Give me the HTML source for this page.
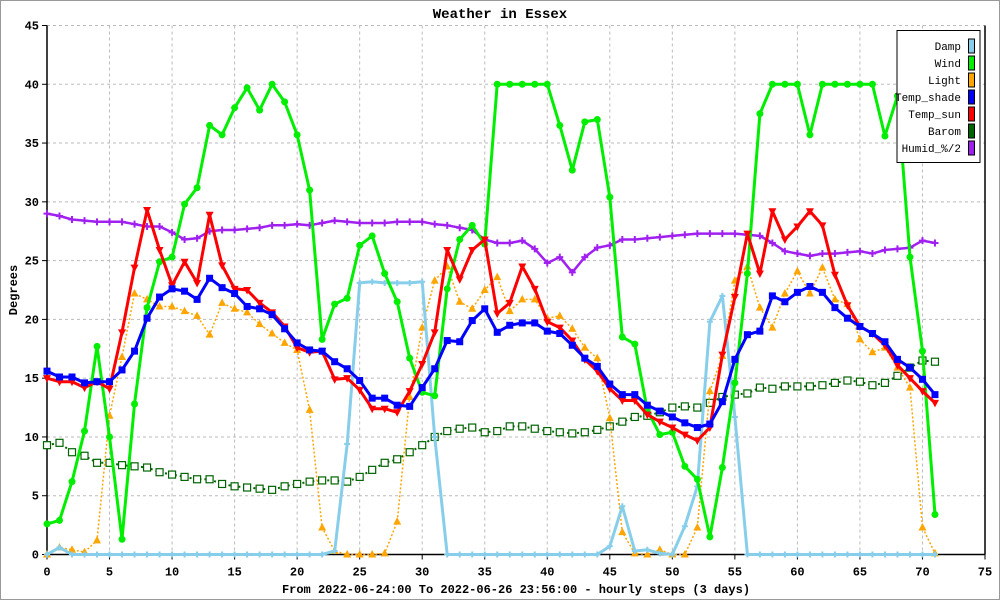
<!DOCTYPE html>
<html><head><meta charset="utf-8"><style>
html,body{margin:0;padding:0;background:#fff}
svg{display:block;font-family:"Liberation Mono",monospace}
</style></head><body>
<svg id="chart" width="1000" height="600" viewBox="0 0 1000 600" xmlns="http://www.w3.org/2000/svg">
<rect x="0.5" y="0.5" width="999" height="599" fill="#fff" stroke="#999"/>
<text x="500" y="18" text-anchor="middle" font-size="14" font-weight="bold">Weather in Essex</text>
<text transform="translate(17,290) rotate(-90)" text-anchor="middle" font-size="12" font-weight="bold">Degrees</text>
<text x="516" y="593" text-anchor="middle" font-size="12" font-weight="bold">From 2022-06-24:00 To 2022-06-26 23:56:00 - hourly steps (3 days)</text>
<g id="grid"></g>
<g id="axes"></g>
<g id="series"></g>
<g id="legend"></g>
</svg>
<script>
const xTicks=[0,5,10,15,20,25,30,35,40,45,50,55,60,65,70,75];
const yTicks=[0,5,10,15,20,25,30,35,40,45];
const seriesNames=["Damp","Wind","Light","Temp_shade","Temp_sun","Barom","Humid_%/2"];
const damp=[0,0.6,0,0,0,0,0,0,0,0,0,0,0,0,0,0,0,0,0,0,0,0,0,0.3,9.4,23.1,23.2,23.1,23.1,23.1,23.2,10,0,0,0,0,0,0,0,0,0,0,0,0,0,0.7,4.1,0.3,0.4,0.1,0,2.4,5.8,19.8,22,11.7,0,0,0,0,0,0,0,0,0,0,0,0,0,0,0,0];
const wind=[2.6,2.9,6.2,10.5,17.7,10,1.3,12.8,21,24.9,25.3,29.8,31.2,36.5,35.7,38,39.7,37.8,40,38.5,35.7,31,18.3,21.3,21.8,26.3,27.1,23.9,21.5,16.7,13.8,13.5,22.6,26.8,28,26.4,40,40,40,40,40,36.5,32.7,36.8,37,30.4,18.5,17.9,12.3,10.2,10.4,7.5,6.4,1.5,7.4,14.6,23.9,37.5,40,40,40,35.7,40,40,40,40,40,35.6,39,25.3,17.3,3.4];
const light=[0,0.6,0.4,0.2,1.2,11.8,16.8,22.2,21.7,21.1,21.1,20.7,20.3,18.7,21.4,20.9,20.6,19.6,18.8,18,17.4,12.3,2.3,0.3,0,0,0,0.1,2.8,13.4,19.3,23.3,24.5,21.5,20.9,22.5,23.6,20.7,21.7,21.7,20.1,20.3,19.2,17.6,16.7,11.6,1.9,0.1,0,0.4,0,0,2.3,13.9,16.9,23.3,24.5,21,19.3,22.2,24.1,22.2,24.4,21.7,21.3,18.3,17.2,17.6,15.9,14.2,2.3,0.1];
const tempShade=[15.6,15.1,15.1,14.6,14.7,14.7,15.7,17.3,20.1,21.9,22.6,22.4,21.7,23.5,22.7,22.2,21.1,20.9,20.4,19.2,18,17.4,17.3,16.4,15.8,14.8,13.3,13.3,12.7,12.6,14.2,15.8,18.2,18.1,19.9,20.9,18.9,19.5,19.7,19.7,19,18.8,17.8,16.7,16,14.5,13.6,13.6,12.7,12.2,11.7,11.2,10.8,11.1,13,16.6,18.7,19,22,21.5,22.3,22.8,22.3,21,20.1,19.4,18.8,18.1,16.6,15.9,14.9,13.6];
const tempSun=[15,14.7,14.7,14.2,14.7,14.1,18.9,24.4,29.3,25.9,22.9,24.9,23.1,28.9,24.6,22.6,22.5,21.4,20.6,19.4,17.6,17.2,17.3,14.9,15,14,12.4,12.4,12.1,13.9,16.2,18.9,25.9,23.4,25.9,26.8,20.5,21.4,24.5,22.6,19.8,19.3,18.2,16.6,15.6,14.1,13.1,13.1,11.9,11.3,10.8,10.2,9.7,10.8,17,21.9,27.3,23.9,29.2,26.8,27.9,29.2,28,23.8,21.2,19.4,18.8,17.8,16.1,15,13.9,12.9];
const barom=[9.3,9.5,8.7,8.4,7.8,7.8,7.6,7.5,7.4,7,6.8,6.6,6.4,6.4,6,5.8,5.7,5.6,5.5,5.8,6,6.2,6.3,6.3,6.2,6.6,7.2,7.8,8.1,8.7,9.3,10,10.5,10.7,10.8,10.4,10.5,10.9,10.9,10.7,10.5,10.4,10.3,10.4,10.6,10.9,11.3,11.7,11.8,12.1,12.5,12.6,12.5,12.9,13.4,13.6,13.7,14.2,14.1,14.3,14.3,14.3,14.4,14.6,14.8,14.7,14.4,14.6,15.2,15.9,16.5,16.4];
const humid=[29,28.8,28.5,28.4,28.3,28.3,28.3,28.1,27.9,27.9,27.4,26.8,26.9,27.5,27.6,27.6,27.7,27.8,28,28,28.1,28,28.2,28.4,28.3,28.2,28.2,28.2,28.3,28.3,28.3,28.1,28,27.8,27.6,26.8,26.5,26.5,26.7,26,24.8,25.3,24,25.3,26.1,26.3,26.8,26.8,26.9,27,27.1,27.2,27.3,27.3,27.3,27.3,27.2,27.1,26.5,25.8,25.6,25.4,25.6,25.6,25.7,25.8,25.6,25.9,26,26.1,26.7,26.5];

const NS="http://www.w3.org/2000/svg";
const X0=47,X1=985,Y0=554.5,Y1=25.5,XMAX=75,YMAX=45;
function xs(v){return X0+(X1-X0)*v/XMAX;}
function ys(v){return Y0-(Y0-Y1)*v/YMAX;}
function mk(tag,attrs,parent){const e=document.createElementNS(NS,tag);for(const k in attrs)e.setAttribute(k,attrs[k]);parent.appendChild(e);return e;}
const grid=document.getElementById('grid'),axes=document.getElementById('axes'),ser=document.getElementById('series'),leg=document.getElementById('legend');

yTicks.forEach(t=>{
  if(t>0){const g=mk('line',{x1:X0,x2:X1,y1:ys(t),y2:ys(t),stroke:'#bbb','stroke-dasharray':'3,3'},grid);
  
  }
  const tk=mk('line',{x1:X0-5,x2:X0,y1:ys(t),y2:ys(t),stroke:'#000'},axes);
  
  
  const lb=mk('text',{x:X0-8,y:ys(t)+4,'text-anchor':'end','font-size':'12','font-weight':'bold'},axes);
  lb.textContent=t;
  
  
});
xTicks.forEach(t=>{
  if(t>0&&t<XMAX){const g=mk('line',{x1:xs(t),x2:xs(t),y1:Y1,y2:Y0,stroke:'#bbb','stroke-dasharray':'3,3'},grid);
  
  }
  const tk=mk('line',{x1:xs(t),x2:xs(t),y1:Y0,y2:Y0+5,stroke:'#000'},axes);
  
  
  const lb=mk('text',{x:xs(t),y:Y0+21,'text-anchor':'middle','font-size':'12','font-weight':'bold'},axes);
  lb.textContent=t;
  
  
});
const ax1=mk('line',{x1:X0,x2:X0,y1:Y1,y2:Y0,stroke:'#000','stroke-width':1.5},axes);


const ax2=mk('line',{x1:X0,x2:X1,y1:Y0,y2:Y0,stroke:'#000','stroke-width':1.5},axes);


const ax3=mk('line',{x1:X1,x2:X1,y1:Y1,y2:Y0,stroke:'#000','stroke-width':1.5},axes);



function marker(type,cx,cy,color,g){
  let e;
  if(type==='circle') e=mk('circle',{cx:cx,cy:cy,r:3.5,fill:color},g);
  else if(type==='up') e=mk('polygon',{points:`${cx},${cy-4.5} ${cx-4},${cy+3} ${cx+4},${cy+3}`,fill:color},g);
  else if(type==='down') e=mk('polygon',{points:`${cx},${cy+4.5} ${cx-4},${cy-3} ${cx+4},${cy-3}`,fill:color},g);
  else if(type==='square') e=mk('rect',{x:cx-3.5,y:cy-3.5,width:7,height:7,fill:color},g);
  else if(type==='osquare') e=mk('rect',{x:cx-3.5,y:cy-3.5,width:7,height:7,fill:'#fff',stroke:color,'stroke-width':1.2},g);
  else if(type==='plus') e=mk('path',{d:`M${cx-3.5},${cy}H${cx+3.5}M${cx},${cy-3.5}V${cy+3.5}`,stroke:color,'stroke-width':2},g);
  else e=mk('path',{d:`M${cx-3},${cy}H${cx+3}M${cx},${cy-3}V${cy+3}`,stroke:color,'stroke-width':2},g);
  return e;
}
const specs=[
 {data:barom,color:'#006400',w:2,dash:'2,3',m:'osquare',name:'barom-series'},
 {data:light,color:'#ffa500',w:1.5,dash:'2,2',m:'up',name:'light-series'},
 {data:humid,color:'#a020f0',w:2.5,dash:null,m:'plus',name:'humid-series'},
 {data:damp,color:'#87ceeb',w:3,dash:null,m:'star',name:'damp-series'},
 {data:wind,color:'#00ee00',w:3,dash:null,m:'circle',name:'wind-series'},
 {data:tempSun,color:'#ff0000',w:3,dash:null,m:'down',name:'temp-sun-series'},
 {data:tempShade,color:'#0000ff',w:3,dash:null,m:'square',name:'temp-shade-series'}
];
specs.forEach(s=>{
  const g=mk('g',{},ser);
  
  
  const pts=s.data.map((v,i)=>xs(i).toFixed(1)+','+ys(v).toFixed(1)).join(' ');
  const a={points:pts,fill:'none',stroke:s.color,'stroke-width':s.w,'stroke-linejoin':'round'};
  if(s.dash)a['stroke-dasharray']=s.dash;
  const pl=mk('polyline',a,g);
  
  
  s.data.forEach((v,i)=>{
    const m=marker(s.m,xs(i),ys(v),s.color,g);
    
    
  });
});

const legColors=['#87ceeb','#00ee00','#ffa500','#0000ff','#ff0000','#006400','#a020f0'];
const lb=mk('rect',{x:897,y:30.5,width:83,height:132,fill:'#fff',stroke:'#000','stroke-width':1},leg);


seriesNames.forEach((n,i)=>{
  const cy=46+i*17;
  const t=mk('text',{x:961,y:cy+4,'text-anchor':'end','font-size':'11'},leg);
  t.textContent=n;
  
  
  const r=mk('rect',{x:968.5,y:cy-7,width:6,height:14,fill:legColors[i],stroke:'#000','stroke-width':1},leg);
  
  
});
</script>
</body></html>
